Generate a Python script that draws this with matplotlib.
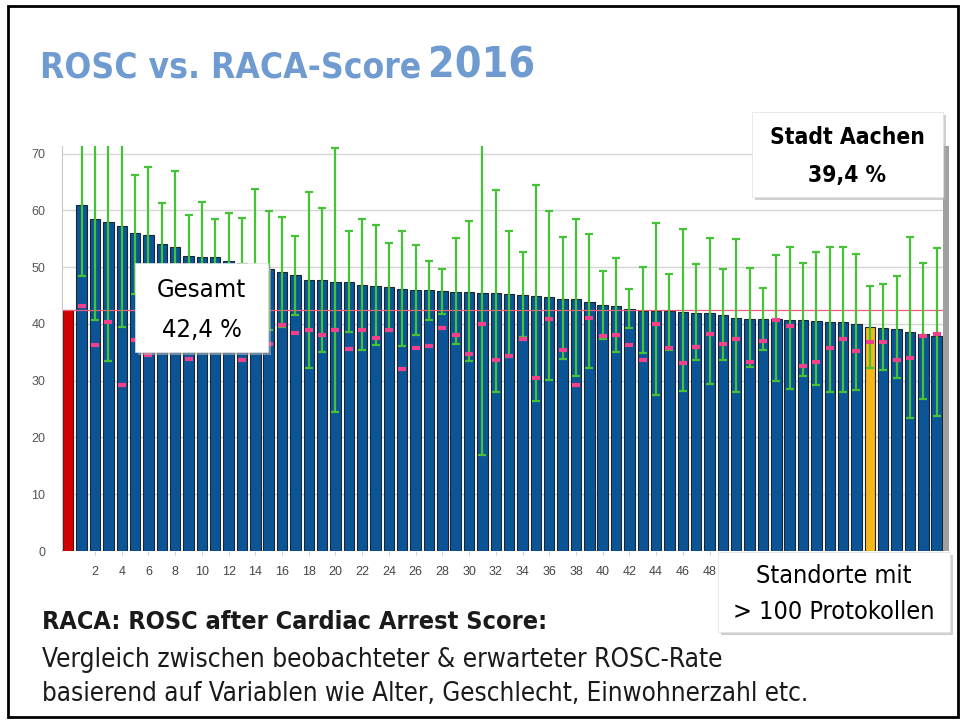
import matplotlib
matplotlib.use("Agg")
import matplotlib.pyplot as plt
from matplotlib.patches import Rectangle
from matplotlib import font_manager as fm
import numpy as np

plt.rcParams['font.family'] = ['Liberation Sans', 'DejaVu Sans']

# ---------------- data ----------------
gesamt_value = 42.4
aachen_index = 60
site_numbers = list(range(1, 66))
observed = [60.9, 58.4, 58.0, 57.2, 56.0, 55.7, 54.1, 53.6, 51.9, 51.8,
            51.7, 51.0, 50.7, 50.4, 49.6, 49.1, 48.6, 47.8, 47.7, 47.4,
            47.4, 46.9, 46.75, 46.5, 46.2, 46.0, 45.9, 45.75, 45.65, 45.6,
            45.4, 45.4, 45.3, 45.1, 44.9, 44.75, 44.4, 44.4, 43.8, 43.4,
            43.2, 42.7, 42.3, 42.3, 42.2, 42.05, 41.95, 41.9, 41.5, 41.05,
            40.9, 40.8, 40.8, 40.6, 40.6, 40.5, 40.3, 40.3, 40.0, 39.4,
            39.3, 39.1, 38.5, 38.2, 37.8]
ci_upper = [76.0, 78.0, 75.0, 74.0, 66.2, 67.7, 61.3, 67.0, 59.2, 61.4,
            58.4, 59.5, 58.6, 63.7, 59.9, 58.8, 55.5, 63.25, 60.4, 71.0,
            56.3, 58.4, 57.4, 54.3, 56.3, 53.9, 51.15, 49.6, 55.1, 58.1,
            75.0, 63.66, 56.4, 52.6, 64.4, 59.8, 55.26, 58.55, 55.9, 49.4,
            51.6, 46.2, 50.0, 57.85, 48.86, 56.8, 50.5, 55.1, 49.6, 55.0,
            49.8, 46.4, 52.2, 53.6, 50.7, 52.6, 53.6, 53.6, 52.4, 46.6,
            47.1, 48.5, 55.3, 50.7, 53.4]
ci_lower = [48.4, 40.6, 33.5, 39.4, 45.2, 44.0, 46.0, 42.0, 44.5, 43.0,
            45.0, 42.0, 43.5, 37.0, 39.0, 39.4, 41.5, 32.2, 35.1, 24.4,
            38.5, 35.4, 36.2, 38.8, 36.1, 38.0, 40.6, 41.8, 36.4, 33.5,
            16.9, 28.0, 34.2, 37.7, 26.4, 30.2, 33.9, 30.8, 32.2, 37.4,
            35.0, 39.25, 34.9, 27.55, 35.4, 28.1, 33.65, 29.4, 33.65, 28.0,
            32.35, 35.4, 29.95, 28.5, 30.9, 29.25, 27.96, 27.96, 28.37, 32.2,
            31.9, 30.4, 23.4, 26.7, 23.7]
expected = [43.2, 36.2, 40.3, 29.3, 37.1, 34.6, 40.0, 39.0, 33.9, 38.0,
            41.0, 40.0, 33.7, 40.0, 36.4, 39.8, 38.4, 38.9, 38.0, 39.0,
            35.5, 39.0, 37.5, 39.0, 32.0, 35.8, 36.1, 39.35, 38.0, 34.65,
            40.05, 33.6, 34.3, 37.3, 30.4, 40.8, 35.35, 29.3, 41.1, 37.9,
            38.0, 36.2, 33.7, 40.05, 35.8, 33.1, 35.95, 38.3, 36.5, 37.35,
            33.3, 37.05, 40.7, 39.7, 32.5, 33.3, 35.8, 37.4, 35.2, 36.9,
            36.8, 33.65, 34.05, 37.9, 38.2]
y_ticks = [0, 10, 20, 30, 40, 50, 60, 70]
x_ticks = list(range(2, 50, 2))

title_main = "ROSC vs. RACA-Score"
title_year = "2016"

# ---------------- condensed font search ----------------
def find_condensed(bold):
    best = None
    for f in fm.fontManager.ttflist:
        name = f.name.lower()
        is_cond = ('narrow' in name or 'condensed' in name or
                   str(f.stretch) in ('condensed', 'semi-condensed', '300', '400'))
        if not is_cond or f.style != 'normal':
            continue
        if 'mono' in name or 'serif' in name and 'sans' not in name:
            continue
        w = f.weight if isinstance(f.weight, int) else (700 if 'bold' in str(f.weight) else 400)
        if bold and w < 600:
            continue
        if not bold and w >= 600:
            continue
        if not bold and w < 350:
            continue
        score = 0 if 'sans' in name else 1
        if best is None or score < best[0]:
            best = (score, f.fname)
    return best[1] if best else None

cond_reg = find_condensed(False)
cond_bold = find_condensed(True)

def fprops(bold, size):
    path = cond_bold if bold else cond_reg
    if path:
        return fm.FontProperties(fname=path, size=size)
    return fm.FontProperties(family=['Liberation Sans', 'DejaVu Sans'],
                             weight='bold' if bold else 'normal', size=size)

# ---------------- figure ----------------
W, H = 967, 722
fig = plt.figure(figsize=(W / 100, H / 100), dpi=100)
fig.patch.set_facecolor('white')
renderer = fig.canvas.get_renderer()

def fx(px):
    return px / W

def fy(py):
    return 1 - py / H

def fit_width(t, target_px, max_size):
    bb = t.get_window_extent(renderer=renderer)
    t.set_fontsize(min(max_size, t.get_fontsize() * target_px / bb.width))
    return t

# outer slide border
fig.add_artist(Rectangle((fx(8), fy(717)), fx(958) - fx(8), fy(6) - fy(717),
                         transform=fig.transFigure, fill=False,
                         edgecolor='black', linewidth=2, zorder=0))

ax_left, ax_right, ax_top, ax_bottom = 62, 944, 146.2, 551
ax = fig.add_axes([fx(ax_left), fy(ax_bottom), fx(ax_right) - fx(ax_left),
                   fy(ax_top) - fy(ax_bottom)])
ax.set_facecolor('white')

x = np.array(site_numbers)
obs = np.array(observed)
up = np.array(ci_upper)
lo = np.array(ci_lower)

colors = ['#0b5596'] * len(x)
colors[aachen_index - 1] = '#f6b818'
ax.bar([0], [gesamt_value], width=0.78, color='#d40000', edgecolor='#5a1010',
       linewidth=0.8, zorder=2)
ax.bar(x, obs, width=0.78, color=colors, edgecolor='#1c2533', linewidth=0.8,
       zorder=2)
ax.errorbar(x, obs, yerr=[obs - lo, up - obs], fmt='none', ecolor='#46c236',
            elinewidth=1.6, capsize=3, capthick=1.6, zorder=3)
ax.plot(x, expected, linestyle='none', marker='_', markersize=6,
        markeredgewidth=3, color='#f2418c', zorder=4)
ax.axhline(gesamt_value, color='#f25a7a', linewidth=0.9, zorder=2.5)

ax.set_xlim(-0.47, 65.55)
ax.set_ylim(0, 71.3)
ax.set_yticks(y_ticks)
ax.set_xticks(x_ticks)
ax.set_xticklabels([str(t) for t in x_ticks])
ax.yaxis.grid(True, color='#d6d6d6', linewidth=1.0, zorder=0)
ax.set_axisbelow(True)
for s in ['top', 'right', 'bottom']:
    ax.spines[s].set_visible(False)
ax.spines['left'].set_color('#c8c8c8')
ax.tick_params(axis='y', length=0, pad=12, labelsize=9, labelcolor='#555555')
ax.tick_params(axis='x', length=3, color='#c8d4e4', pad=8, labelsize=9,
               labelcolor='#444444')

# right shadow of chart
fig.add_artist(Rectangle((fx(943), fy(551)), fx(949) - fx(943), fy(146) - fy(551),
                         transform=fig.transFigure, facecolor='#a0a0a0',
                         edgecolor='none', zorder=5))

def label_box(x0, y0, x1, y1, lines, size, widths, bold=False):
    fig.add_artist(Rectangle((fx(x0 + 3), fy(y1 + 3)), fx(x1) - fx(x0), fy(y0) - fy(y1),
                             transform=fig.transFigure, facecolor='#b0b0b0',
                             edgecolor='none', alpha=0.6, zorder=9))
    fig.add_artist(Rectangle((fx(x0), fy(y1)), fx(x1) - fx(x0), fy(y0) - fy(y1),
                             transform=fig.transFigure, facecolor='white',
                             edgecolor='#e0e0e0', linewidth=0.5, zorder=10))
    h = (y1 - y0)
    fracs = [0.30, 0.75]
    texts = []
    for i, line in enumerate(lines):
        yc = y0 + h * fracs[i]
        t = fig.text(fx((x0 + x1) / 2), fy(yc), line, ha='center', va='center',
                     fontproperties=fprops(bold, size), color='black', zorder=11)
        texts.append(t)
    sizes = []
    for t, wpx in zip(texts, widths):
        bb = t.get_window_extent(renderer=renderer)
        sizes.append(size * wpx / bb.width)
    s = min(min(sizes), size * 1.3)
    for t in texts:
        t.set_fontsize(s)

label_box(135, 263, 268, 352, ["Gesamt", "42,4 %"], 22, [91, 80])
label_box(752, 112, 943, 197, ["Stadt Aachen", "39,4 %"], 20, [168, 78], bold=True)
label_box(718, 552, 950, 632, ["Standorte mit", "> 100 Protokollen"], 19, [156, 205])

# title
t1 = fig.text(fx(40), fy(77), title_main, ha='left', va='baseline',
              fontproperties=fprops(True, 30), color='#6f9bd1')
fit_width(t1, 380, 34)
t2 = fig.text(fx(428), fy(77), title_year, ha='left', va='baseline',
              fontproperties=fprops(True, 40), color='#6f9bd1')
fit_width(t2, 107, 46)

# footer texts
f1 = fig.text(fx(42), fy(629), "RACA: ROSC after Cardiac Arrest Score:", ha='left',
              va='baseline', fontproperties=fprops(True, 19), color='#1a1a1a')
fit_width(f1, 506, 22)
f2 = fig.text(fx(42), fy(667), "Vergleich zwischen beobachteter & erwarteter ROSC-Rate",
              ha='left', va='baseline', fontproperties=fprops(False, 19), color='#1a1a1a')
fit_width(f2, 680, 22)
f3 = fig.text(fx(42), fy(701),
              "basierend auf Variablen wie Alter, Geschlecht, Einwohnerzahl etc.",
              ha='left', va='baseline', fontproperties=fprops(False, 19), color='#1a1a1a')
fit_width(f3, 764, 22)

fig.savefig("out.png", dpi=100)
